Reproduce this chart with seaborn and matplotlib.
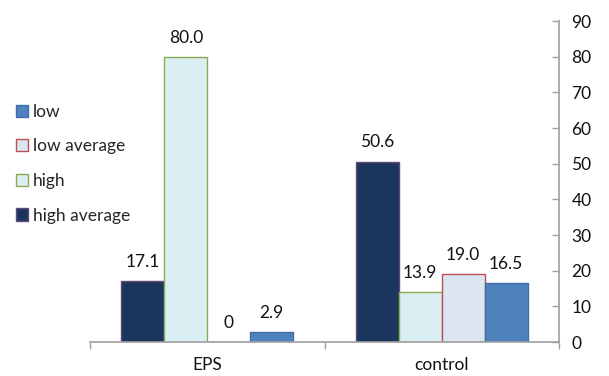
import matplotlib
matplotlib.use("Agg")
import matplotlib.pyplot as plt
import seaborn as sns
import pandas as pd

# Data
groups = ["EPS", "control"]
series = ["high average", "high", "low average", "low"]
high_average = [17.1, 50.6]
high = [80.0, 13.9]
low_average = [0.0, 19.0]
low = [2.9, 16.5]
y_ticks = [0, 10, 20, 30, 40, 50, 60, 70, 80, 90]

values = {"high average": high_average, "high": high,
          "low average": low_average, "low": low}
rows = [(g, s, values[s][i]) for s in series for i, g in enumerate(groups)]
df = pd.DataFrame(rows, columns=["group", "series", "value"])

fills = {"high average": "#1B365D", "high": "#DBEEF4",
         "low average": "#DCE6F2", "low": "#4F81BD"}
edges = {"high average": "#5F4A7B", "high": "#8AAA50",
         "low average": "#C0504D", "low": "#3E6DA8"}

sns.set_theme(style="white")
plt.rcParams["font.family"] = ["Lato", "DejaVu Sans"]
fs = 12.5

fig = plt.figure(figsize=(6.09, 3.76), dpi=100)
ax = fig.add_axes([0.1478, 0.0904, 0.9179 - 0.1478, 0.944 - 0.0904])

sns.barplot(data=df, x="group", y="value", hue="series", order=groups,
            hue_order=series, palette=fills, width=0.733, ax=ax,
            legend=False, errorbar=None, saturation=1)

for cont, s in zip(ax.containers, series):
    for bar in cont:
        bar.set_edgecolor(edges[s])
        bar.set_linewidth(1.0)
    labels = [f"{v:.1f}" if v != 0 else "0" for v in values[s]]
    ax.bar_label(cont, labels=labels, padding=8, fontsize=fs, color="#111111")

ax.set_xlim(-0.5, 1.5)
ax.set_ylim(0, 90)
ax.set_yticks(y_ticks)
ax.yaxis.tick_right()
ax.set_xlabel("")
ax.set_ylabel("")

axis_gray = "#A0A0A0"
for side in ["left", "top"]:
    ax.spines[side].set_visible(False)
for side in ["right", "bottom"]:
    ax.spines[side].set_color(axis_gray)
    ax.spines[side].set_linewidth(1.2)

ax.tick_params(axis="y", which="major", direction="in", length=5, width=1,
               color=axis_gray, labelsize=fs, labelcolor="#111111", pad=9,
               right=True, left=False)
ax.set_xticks([-0.5, 0.5, 1.5], minor=False)
ax.set_xticklabels([])
ax.set_xticks([0, 1], minor=True)
ax.set_xticklabels(groups, minor=True)
ax.tick_params(axis="x", which="major", direction="out", length=5, width=1,
               color=axis_gray, bottom=True)
ax.tick_params(axis="x", which="minor", length=0, labelsize=fs,
               labelcolor="#111111", pad=11)

# Legend listed in reverse of the drawing order
legend_order = ["low", "low average", "high", "high average"]
handles = [plt.Rectangle((0, 0), 1, 1, facecolor=fills[s], edgecolor=edges[s],
                         linewidth=1.0) for s in legend_order]
fig.legend(handles, legend_order, loc="upper left",
           bbox_to_anchor=(0.026, 0.724), frameon=False, fontsize=fs,
           handlelength=0.7, handleheight=0.7, handletextpad=0.3,
           labelspacing=1.07, borderaxespad=0, borderpad=0)

fig.savefig("out.png", dpi=100)
